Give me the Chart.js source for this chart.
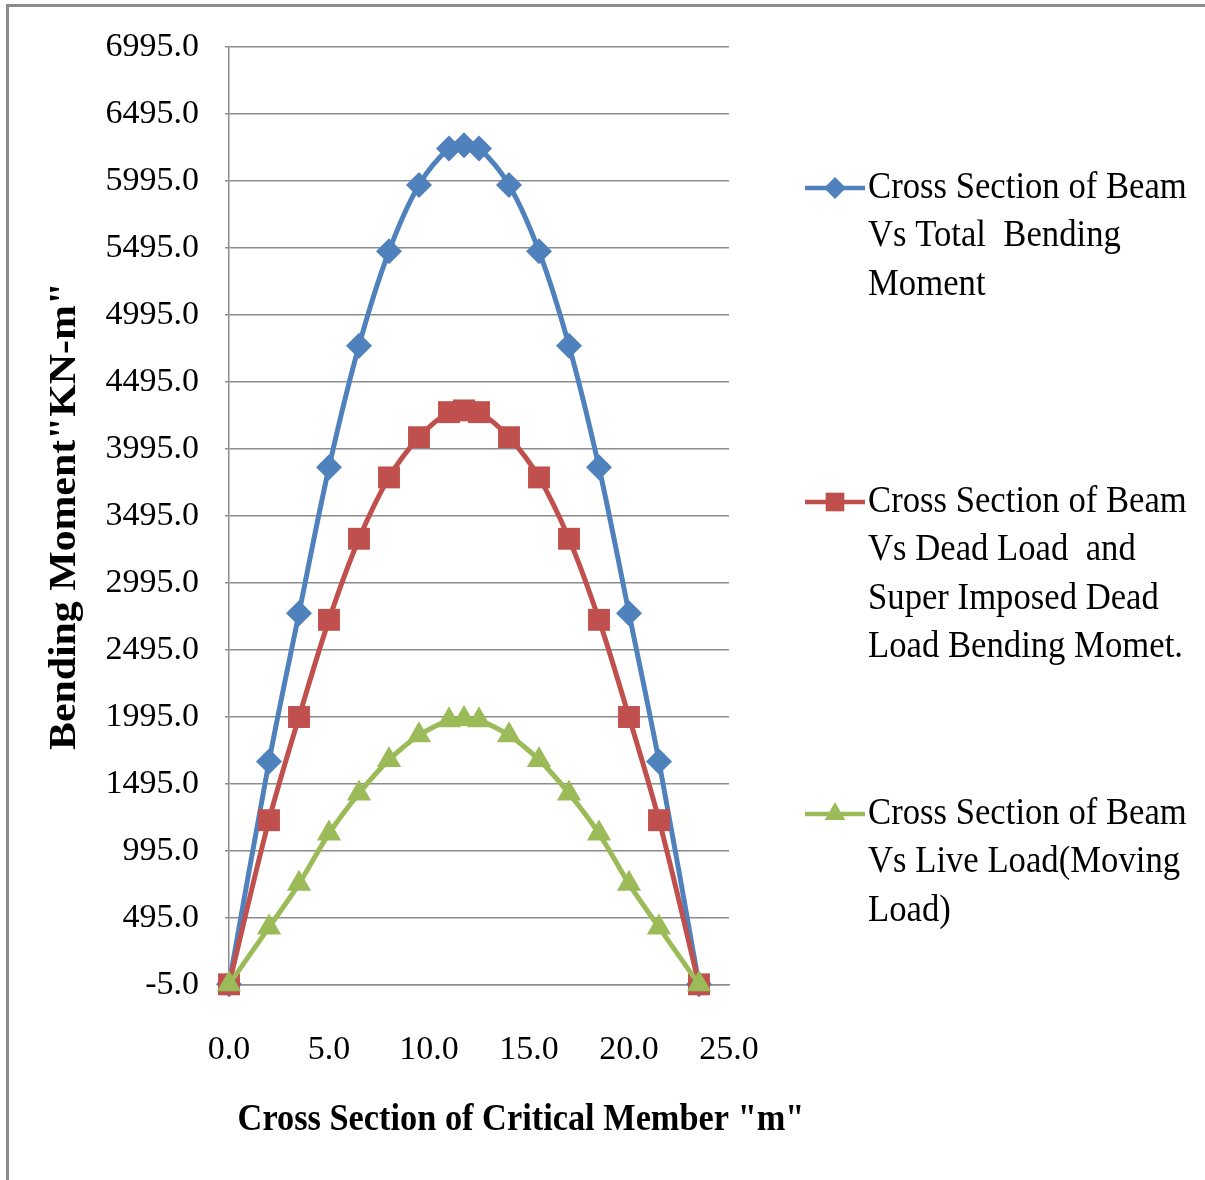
<!DOCTYPE html>
<html lang="en">
<head>
<meta charset="UTF-8">
<title>Bending Moment along Beam</title>
<script src="https://cdn.jsdelivr.net/npm/chart.js"></script>
<style>
    body { margin: 0; padding: 0; background: #fff; }
    .chart-container { position: relative; width: 1205px; height: 1180px; }
</style>
</head>
<body>
<div class="chart-container">
    <canvas id="momentChart" width="1205" height="1180"></canvas>
</div>
<script>
    // cross section positions along the beam (m)
    const sections = [0, 2, 3.5, 5, 6.5, 8, 9.5, 11, 11.75, 12.5, 14, 15.5, 17, 18.5, 20, 21.5, 23.5];
    const totalMoment = [0, 1662, 2770, 3858, 4766, 5471, 5965, 6238, 6262, 6238, 5965, 5471, 4766, 3858, 2770, 1662, 0];
    const deadLoadMoment = [0, 1225, 1995, 2720, 3325, 3783, 4083, 4270, 4283, 4270, 4083, 3783, 3325, 2720, 1995, 1225, 0];
    const liveLoadMoment = [0, 425, 750, 1125, 1425, 1675, 1858, 1970, 1980, 1970, 1858, 1675, 1425, 1125, 750, 425, 0];

    const legendLabels = [
        ['Cross Section of Beam', 'Vs Total  Bending', 'Moment'],
        ['Cross Section of Beam', 'Vs Dead Load  and', 'Super Imposed Dead', 'Load Bending Momet.'],
        ['Cross Section of Beam', 'Vs Live Load(Moving', 'Load)']
    ];
    const xTitle = 'Cross Section of Critical Member "m"';
    const yTitle = 'Bending Moment"KN-m"';

    const FONT = "'Liberation Serif', 'Times New Roman', serif";

    function toPoints(values) {
        return sections.map((x, i) => ({ x: x, y: values[i] }));
    }

    // draws frame, axis titles and the legend on the right
    const extras = {
        id: 'extras',
        afterDraw(chart) {
            const ctx = chart.ctx;
            const area = chart.chartArea;
            ctx.save();

            ctx.strokeStyle = '#8c8c8c';
            ctx.lineWidth = 3;
            ctx.beginPath();
            ctx.moveTo(7.5, chart.height);
            ctx.lineTo(7.5, 5.5);
            ctx.lineTo(chart.width, 5.5);
            ctx.stroke();

            ctx.fillStyle = '#000';
            ctx.textBaseline = 'middle';
            ctx.textAlign = 'center';
            ctx.font = 'bold 34px ' + FONT;
            ctx.save();
            ctx.translate(area.left + 292, 1120);
            ctx.scale(1.01, 1.12);
            ctx.fillText(xTitle, 0, 0);
            ctx.restore();

            ctx.font = 'bold 37px ' + FONT;
            ctx.save();
            ctx.translate(65, (area.top + area.bottom) / 2);
            ctx.rotate(-Math.PI / 2);
            ctx.scale(1.13, 1.0);
            ctx.fillText(yTitle, 0, 0);
            ctx.restore();

            // legend
            const startY = [188, 502, 814];
            const lineH = 48.5;
            chart.data.datasets.forEach((ds, i) => {
                const y = startY[i];
                const x0 = area.right + 76;
                ctx.strokeStyle = ds.borderColor;
                ctx.lineWidth = 4.5;
                ctx.beginPath();
                ctx.moveTo(x0, y);
                ctx.lineTo(x0 + 60, y);
                ctx.stroke();
                ctx.fillStyle = ds.backgroundColor;
                Chart.helpers.drawPoint(ctx, {
                    pointStyle: ds.pointStyle,
                    radius: ds.pointRadius * 0.85,
                    rotation: 0,
                    borderWidth: 0
                }, x0 + 30, y);
                ctx.fillStyle = '#000';
                ctx.textAlign = 'left';
                ctx.font = '34px ' + FONT;
                legendLabels[i].forEach((line, j) => {
                    ctx.save();
                    ctx.translate(x0 + 63, y + j * lineH);
                    ctx.scale(1.02, 1.12);
                    ctx.fillText(line, 0, 0);
                    ctx.restore();
                });
            });
            ctx.restore();
        }
    };

    const ctx = document.getElementById('momentChart').getContext('2d');
    new Chart(ctx, {
        type: 'line',
        data: {
            datasets: [
                {
                    label: legendLabels[0].join(' '),
                    data: toPoints(totalMoment),
                    borderColor: '#4F81BD',
                    backgroundColor: '#4F81BD',
                    pointStyle: 'rectRot',
                    pointRadius: 13,
                    order: 2
                },
                {
                    label: legendLabels[1].join(' '),
                    data: toPoints(deadLoadMoment),
                    borderColor: '#C0504D',
                    backgroundColor: '#C0504D',
                    pointStyle: 'rect',
                    pointRadius: 15.5,
                    order: 1
                },
                {
                    label: legendLabels[2].join(' '),
                    data: toPoints(liveLoadMoment),
                    borderColor: '#9BBB59',
                    backgroundColor: '#9BBB59',
                    pointStyle: 'triangle',
                    pointRadius: 14,
                    order: 0
                }
            ]
        },
        options: {
            responsive: false,
            animation: false,
            devicePixelRatio: 1,
            layout: { padding: { left: 9, top: 47, right: 476, bottom: 0 } },
            elements: {
                line: { borderWidth: 5, tension: 0.35, fill: false },
                point: { borderWidth: 0, hoverRadius: 13 }
            },
            clip: false,
            plugins: {
                legend: { display: false },
                tooltip: { enabled: false }
            },
            scales: {
                x: {
                    type: 'linear',
                    min: 0,
                    max: 25,
                    afterFit(scale) { scale.height = 195; },
                    grid: { display: false },
                    border: { display: true, color: '#8c8c8c', width: 1.5 },
                    ticks: {
                        stepSize: 5,
                        padding: 37,
                        color: '#000',
                        font: { family: FONT, size: 34 },
                        maxRotation: 0,
                        callback: (v) => v.toFixed(1)
                    }
                },
                y: {
                    type: 'linear',
                    min: -5,
                    max: 6995,
                    afterFit(scale) { scale.width = 220; },
                    grid: { color: '#8c8c8c', lineWidth: 1.5, tickLength: 4 },
                    border: { display: true, color: '#8c8c8c', width: 1.5 },
                    ticks: {
                        stepSize: 500,
                        padding: 26,
                        color: '#000',
                        font: { family: FONT, size: 34 },
                        callback: (v) => v.toFixed(1)
                    }
                }
            }
        },
        plugins: [extras]
    });
</script>
</body>
</html>
